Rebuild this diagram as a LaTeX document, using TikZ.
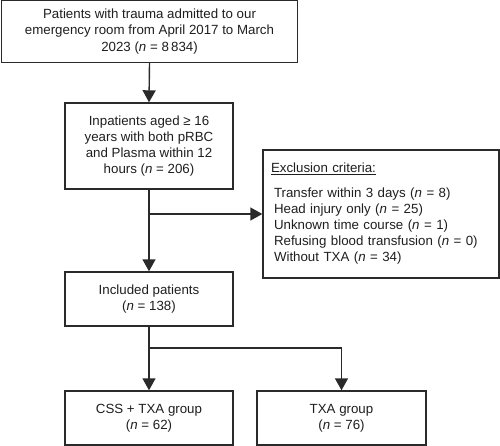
\documentclass[tikz,border=0pt]{standalone}
\usepackage{fontspec}
\setmainfont{Liberation Sans}
\usetikzlibrary{arrows.meta}
\definecolor{lc}{HTML}{2A2A2A}
\begin{document}
\begin{tikzpicture}[x=1pt,y=-1pt,
  box/.style={draw=lc,line width=1.4pt,rectangle,align=center,inner sep=2pt,
    font=\fontsize{13.3}{16.2}\selectfont,text=black!88},
  conn/.style={draw=lc,line width=1.4pt},
  arr/.style={conn,-{Triangle[width=13pt,length=12pt]}}]
\useasboundingbox[fill=white] (0,0) rectangle (500,446);
\node[box,minimum width=296pt,minimum height=62pt] (b1) at (149.5,31.5)
  {Patients with trauma admitted to our\\emergency room from April 2017 to March\\2023 (\textit{n} = 8\,834)};
\node[box,minimum width=168pt,minimum height=86pt] (b2) at (149,146)
  {Inpatients aged ≥ 16\\years with both pRBC\\and Plasma within 12\\hours (\textit{n} = 206)};
\node[box,minimum width=236pt,minimum height=128pt,text width=220pt,align=left,inner xsep=8pt] (ex) at (381,214)
  {\underline{Exclusion criteria:}\\[8pt]
   \hspace*{3pt}Transfer within 3 days (\textit{n} = 8)\\
   \hspace*{3pt}Head injury only (\textit{n} = 25)\\
   \hspace*{3pt}Unknown time course (\textit{n} = 1)\\
   \hspace*{3pt}Refusing blood transfusion (\textit{n} = 0)\\
   \hspace*{3pt}Without TXA (\textit{n} = 34)};
\node[box,minimum width=168pt,minimum height=54pt] (b3) at (149,299)
  {Included patients\\(\textit{n} = 138)};
\node[box,minimum width=168pt,minimum height=54pt] (b4) at (149,418)
  {CSS + TXA group\\(\textit{n} = 62)};
\node[box,minimum width=169pt,minimum height=54pt] (b5) at (341.5,418)
  {TXA group\\(\textit{n} = 76)};
\draw[arr] (b1.south) -- (b2.north);
\draw[arr] (b2.south) -- (b3.north);
\coordinate (j1) at (b2.south |- ex.west);
\draw[arr] (j1) -- (ex.west);
\coordinate (j2) at (149,348);
\draw[conn] (b3.south) -- (j2);
\draw[arr] (j2) -- (b4.north);
\draw[arr] (j2) -| (b5.north);
\end{tikzpicture}
\end{document}
